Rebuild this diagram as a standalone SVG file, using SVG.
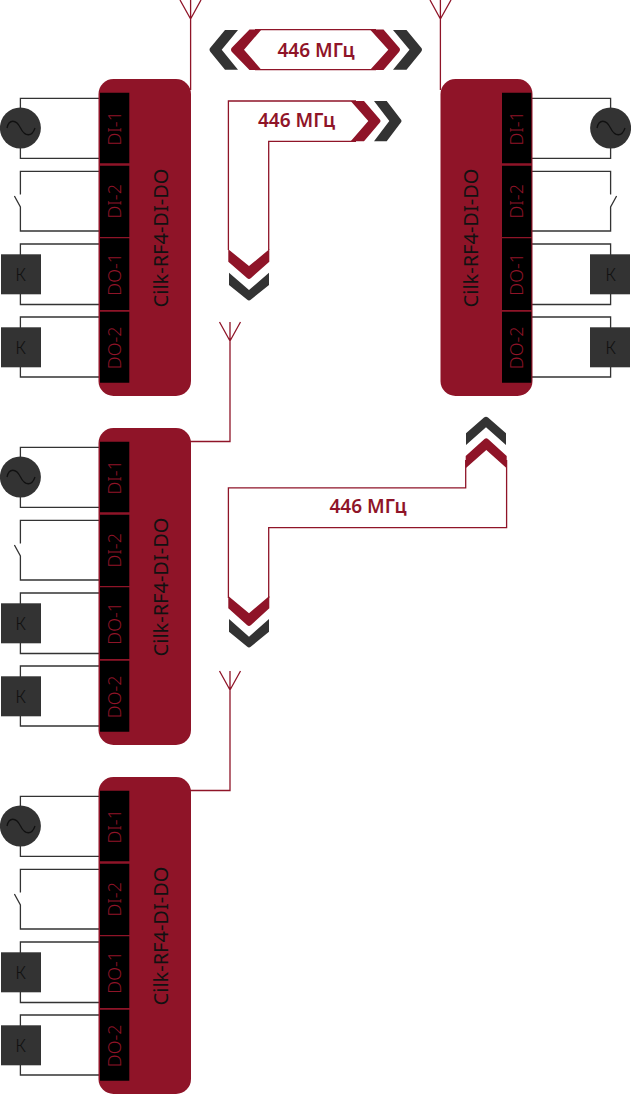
<svg xmlns="http://www.w3.org/2000/svg" xmlns:xlink="http://www.w3.org/1999/xlink" width="631" height="1094" viewBox="0 0 631 1094">
<style>
.w{fill:none;stroke:#333;stroke-width:1.3}
.s{fill:none;stroke:#111;stroke-width:1.3}
.r{fill:none;stroke:#8f1428;stroke-width:1.3}
.box{fill:#8f1428}
.dark{fill:#333}
.red{fill:#8f1428}
.strip{fill:#000}
text{font-family:"Noto Sans","Open Sans",sans-serif}
.t{fill:#8f1428;font-size:18px;font-weight:300;text-anchor:middle}
.n{fill:#111;font-size:20px;font-weight:400;text-anchor:middle}
.k{fill:#111;font-size:18px;font-weight:300;text-anchor:middle}
.f{fill:#8f1428;font-size:19px;font-weight:600;text-anchor:middle}
</style>
<defs>
<g id="load">
<path class="w" d="M99 98.300H20.400V158.300H99"/>
<circle class="dark" cx="20.400" cy="128" r="20.500"/>
<path class="w" d="M99 171.300H20.400V194.500M14.400 196L20.400 207V231H99"/>
<path class="w" d="M99 244H20.400V304.500H99"/>
<rect class="dark" x="1" y="254.300" width="40" height="40"/>
<path class="w" d="M99 317H20.400V377H99"/>
<rect class="dark" x="1" y="327.300" width="40" height="40"/>
</g>
<path id="wave" class="s" d="M7 128C9 119 16 119 20.500 128S32 137 35 128"/>
<path id="strips" class="strip" d="M100 92.700H129.300V163.300H100ZM100 165.700H129.300V237H100ZM100 238.300H129.300V310H100ZM100 311.700H129.300V382.700H100Z"/>
</defs>
<g id="connectors">
<path class="r" d="M180 0L190.600 19L201 0M190.600 0V90"/>
<path class="r" d="M430 0L440.400 19L451 0M440.400 0V90"/>
<path class="r" d="M219.500 322L230 341L240.500 322M230 322V441.500H190"/>
<path class="r" d="M219.500 671L230 690L240.500 671M230 671V790.500H190"/>
</g>
<g id="module-1">
<use xlink:href="#load" href="#load"/>
<use xlink:href="#wave" href="#wave"/>
<rect class="box" x="98.500" y="79" width="92.500" height="317" rx="15"/>
<use xlink:href="#strips" href="#strips"/>
<text class="t" transform="translate(120.700 128.300) rotate(-90)">DI-1</text>
<text class="t" transform="translate(120.700 201.300) rotate(-90)">DI-2</text>
<text class="t" transform="translate(120.700 274.300) rotate(-90)">DO-1</text>
<text class="t" transform="translate(120.700 347.800) rotate(-90)">DO-2</text>
<text class="n" transform="translate(168.300 238) rotate(-90)">Cilk-RF4-DI-DO</text>
<text class="k" x="20.500" y="280.700">К</text><text class="k" x="20.500" y="353.500">К</text>
</g>
<g id="module-2">
<use xlink:href="#load" href="#load" transform="matrix(-1 0 0 1 631 0)"/>
<use xlink:href="#wave" href="#wave" transform="translate(590 0)"/>
<rect class="box" x="440.500" y="79" width="92" height="317" rx="15"/>
<use xlink:href="#strips" href="#strips" transform="translate(402 0)"/>
<text class="t" transform="translate(522.700 128.300) rotate(-90)">DI-1</text>
<text class="t" transform="translate(522.700 201.300) rotate(-90)">DI-2</text>
<text class="t" transform="translate(522.700 274.300) rotate(-90)">DO-1</text>
<text class="t" transform="translate(522.700 347.800) rotate(-90)">DO-2</text>
<text class="n" transform="translate(478.300 238) rotate(-90)">Cilk-RF4-DI-DO</text>
<text class="k" x="610.500" y="280.700">К</text><text class="k" x="610.500" y="353.500">К</text>
</g>
<g id="module-3" transform="translate(0 349)">
<use xlink:href="#load" href="#load"/>
<use xlink:href="#wave" href="#wave"/>
<rect class="box" x="98.500" y="79" width="92.500" height="317" rx="15"/>
<use xlink:href="#strips" href="#strips"/>
<text class="t" transform="translate(120.700 128.300) rotate(-90)">DI-1</text>
<text class="t" transform="translate(120.700 201.300) rotate(-90)">DI-2</text>
<text class="t" transform="translate(120.700 274.300) rotate(-90)">DO-1</text>
<text class="t" transform="translate(120.700 347.800) rotate(-90)">DO-2</text>
<text class="n" transform="translate(168.300 238) rotate(-90)">Cilk-RF4-DI-DO</text>
<text class="k" x="20.500" y="280.700">К</text><text class="k" x="20.500" y="353.500">К</text>
</g>
<g id="module-4" transform="translate(0 698)">
<use xlink:href="#load" href="#load"/>
<use xlink:href="#wave" href="#wave"/>
<rect class="box" x="98.500" y="79" width="92.500" height="317" rx="15"/>
<use xlink:href="#strips" href="#strips"/>
<text class="t" transform="translate(120.700 128.300) rotate(-90)">DI-1</text>
<text class="t" transform="translate(120.700 201.300) rotate(-90)">DI-2</text>
<text class="t" transform="translate(120.700 274.300) rotate(-90)">DO-1</text>
<text class="t" transform="translate(120.700 347.800) rotate(-90)">DO-2</text>
<text class="n" transform="translate(168.300 238) rotate(-90)">Cilk-RF4-DI-DO</text>
<text class="k" x="20.500" y="280.700">К</text><text class="k" x="20.500" y="353.500">К</text>
</g>
<g id="link-both">
<path class="r" d="M255 29.700H376M255 69.700H376"/>
<path class="dark" d="M225 30H238L221.700 49.700L238 69.700H225L210.500 52Q208.500 49.700 210.500 47.500Z"/>
<path class="red" d="M249.500 29.500H261.500L244 49.700L261.500 70H249.500L232 52Q230 49.700 232 47.500Z"/>
<path class="red" d="M370 29.500H383.500L399 47.500Q401 49.700 399 52L383.500 70H370L388.300 49.700Z"/>
<path class="dark" d="M393 30H406.500L421 47.500Q423 49.700 421 52L406.500 69.700H393L409.500 49.700Z"/>
<text class="f" x="316" y="57.300">446 МГц</text>
</g>
<g id="link-corner">
<path class="r" d="M228.400 250V101H356M356 141.300H268.700V250"/>
<path class="red" d="M350.700 101H364L379.500 119Q381.500 121 379.500 123L364 141.300H350.700L368.300 121Z"/>
<path class="dark" d="M374 101H386.700L400.500 119Q402.500 121 400.500 123L386.700 141.300H374L389.300 121Z"/>
<path class="red" d="M228.300 249.300L249 266L269.300 249.300V261.700L251 278Q249 280 247 278L228.300 261.700Z"/>
<path class="dark" d="M229 272.700L249 290L269 272.700V285L251 299.500Q249 301.500 247 299.500L229 285Z"/>
<text class="f" x="296.500" y="126.700">446 МГц</text>
</g>
<g id="link-z">
<path class="r" d="M228.400 598V487.800H465.700V460M506.600 460V527.700H268.700V598"/>
<path class="red" d="M465.700 456L484.500 439Q486.300 437.500 488 439L506.700 456V468.300L486.300 450L465.700 468.300Z"/>
<path class="dark" d="M466 433.300L484 417.500Q486 415.800 488 417.500L506 433.300V445L486 427.300L466 445Z"/>
<path class="red" d="M228.300 596L249 613.300L269.300 596V608.300L251 625Q249 627 247 625L228.300 608.300Z"/>
<path class="dark" d="M229 619L249 636.700L269 619V631.700L251 646.500Q249 648.500 247 646.500L229 631.700Z"/>
<text class="f" x="368" y="513.300">446 МГц</text>
</g>
</svg>
